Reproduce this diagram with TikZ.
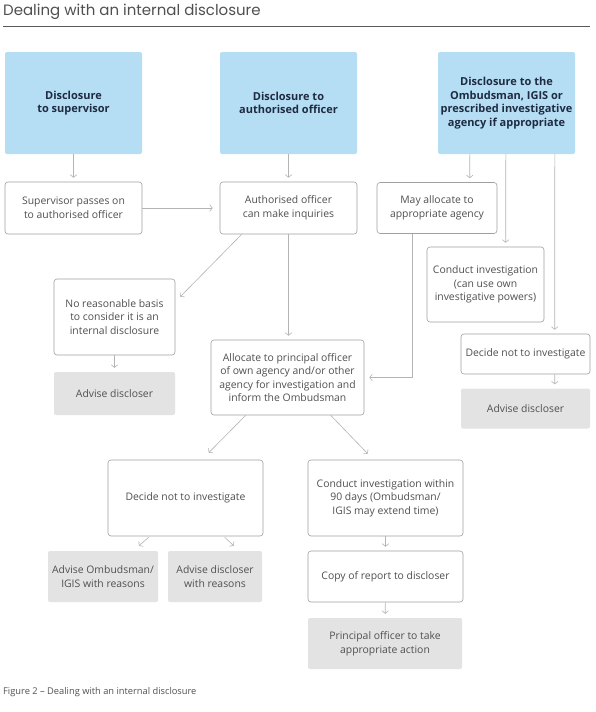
\documentclass[tikz,border=0pt]{standalone}
\usepackage{fontspec}
\setmainfont{Open Sans}
\newfontfamily\titlefont{Poppins}
\usetikzlibrary{arrows.meta,calc}
\definecolor{bluefill}{HTML}{B5DEF5}
\definecolor{bluetext}{HTML}{1E2B40}
\definecolor{greyfill}{HTML}{E3E3E3}
\definecolor{boxline}{HTML}{A0A0A0}
\definecolor{linegrey}{HTML}{B4B4B4}
\definecolor{bodytext}{HTML}{505050}
\definecolor{titlegrey}{HTML}{505050}
\definecolor{rulegrey}{HTML}{5A5A5A}
\tikzset{
  basebox/.style={inner sep=0pt, align=center, text=bodytext,
    font=\fontsize{10.4}{13.6}\selectfont},
  flowbox/.style={basebox, draw=boxline, line width=0.6pt, rounded corners=3pt, fill=white},
  bluebox/.style={basebox, fill=bluefill, rounded corners=2pt, text=bluetext,
    font=\bfseries\fontsize{11}{13.6}\selectfont, minimum width=137pt, minimum height=102pt},
  greybox/.style={basebox, fill=greyfill, rounded corners=2pt},
  conn/.style={draw=linegrey, line width=0.6pt, -{Straight Barb[length=2.6pt,width=6.5pt]}},
  connin/.style={conn, shorten >=4pt}
}
\begin{document}
\begin{tikzpicture}[x=1pt,y=-1pt]
\useasboundingbox (0,0) rectangle (595,712);
\fill[white] (0,0) rectangle (595,712);

% title
\node[anchor=west, inner sep=0pt, text=titlegrey, font=\titlefont\fontsize{15}{17}\selectfont] (title) at (3,12) {Dealing with an internal disclosure};
\draw[rulegrey, line width=0.8pt] (3,26.5) -- (590,26.5);

% top blue boxes
\node[bluebox] (b1) at (73.5,103) {Disclosure\\to supervisor};
\node[bluebox] (b2) at (288.5,103) {Disclosure to\\authorised officer};
\node[bluebox] (b3) at (506.5,103) {Disclosure to the\\Ombudsman, IGIS or\\prescribed investigative\\agency if appropriate};

% second row
\node[flowbox, minimum width=137pt, minimum height=52pt] (sup) at (73.5,208) {Supervisor passes on\\to authorised officer};
\node[flowbox, minimum width=137pt, minimum height=52pt] (auth) at (288.5,208) {Authorised officer\\can make inquiries};
\node[flowbox, minimum width=120pt, minimum height=51pt] (may) at (437,208) {May allocate to\\appropriate agency};

% right column
\node[flowbox, minimum width=117pt, minimum height=75pt] (cond1) at (485.5,284.5) {Conduct investigation\\(can use own\\investigative powers)};
\node[flowbox, minimum width=129pt, minimum height=40pt] (dec1) at (525.5,354) {Decide not to investigate};
\node[greybox, minimum width=129pt, minimum height=40pt] (adv2) at (525.5,408.5) {Advise discloser};

% left column
\node[flowbox, minimum width=121pt, minimum height=76pt] (noreason) at (114.5,317) {No reasonable basis\\to consider it is an\\internal disclosure};
\node[greybox, minimum width=121pt, minimum height=43pt] (adv1) at (114.5,393.5) {Advise discloser};

% allocate
\node[flowbox, minimum width=153pt, minimum height=75pt] (alloc) at (287.5,377.5) {Allocate to principal officer\\of own agency and/or other\\agency for investigation and\\inform the Ombudsman};

% lower part
\node[flowbox, minimum width=155pt, minimum height=76pt] (dec2) at (185.5,498) {Decide not to investigate};
\node[flowbox, minimum width=155pt, minimum height=76pt] (cond2) at (385.5,498) {Conduct investigation within\\90 days (Ombudsman/\\IGIS may extend time)};
\node[greybox, minimum width=110pt, minimum height=51pt] (advomb) at (103,576.5) {Advise Ombudsman/\\IGIS with reasons};
\node[greybox, minimum width=94pt, minimum height=51pt] (advdr) at (215,576.5) {Advise discloser\\with reasons};
\node[flowbox, minimum width=155pt, minimum height=51pt] (copy) at (385.5,576.5) {Copy of report to discloser};
\node[greybox, minimum width=154pt, minimum height=51pt] (princ) at (385,643.5) {Principal officer to take\\appropriate action};

% caption
\node[anchor=west, inner sep=0pt, text=bodytext, font=\fontsize{9.3}{11}\selectfont] (cap) at (3,692) {Figure 2 – Dealing with an internal disclosure};

% connectors
\draw[connin] (b1) -- (sup);
\draw[connin] (b2) -- (auth);
\draw[connin] ($(b3.south west)+(32,0)$) -- ($(may.north west)+(93,0)$);
\draw[connin] ($(b3.south west)+(68,0)$) -- ($(cond1.north west)+(79,0)$);
\draw[connin] ($(b3.south west)+(117,0)$) -- ($(dec1.north west)+(94,0)$);
\draw[connin] ($(dec1.south west)+(94,0)$) -- ($(adv2.north west)+(94,0)$);
\draw[connin, shorten >=7pt] (sup) -- (auth);
\draw[conn] ($(auth.south west)+(22,0)$) -- ($(noreason.north east)+(5,18)$);
\draw[connin] (auth.south) -- (auth.south |- alloc.north);
\draw[connin, shorten >=5pt] ($(may.south west)+(36,0)$) |- (alloc.east);
\draw[connin] (noreason) -- (adv1);
\draw[conn] ($(alloc.south west)+(35,0)$) -- ($(dec2.north west)+(101,-7)$);
\draw[conn] ($(alloc.south west)+(120,0)$) -- ($(cond2.north west)+(60,-6)$);
\draw[conn] ($(dec2.south west)+(41,1)$) -- ($(advomb.north west)+(91,-5)$);
\draw[conn] ($(dec2.south west)+(117,1)$) -- ($(advdr.north west)+(66,-5)$);
\draw[connin] (cond2) -- (copy);
\draw[connin] (copy) -- (princ);
\end{tikzpicture}
\end{document}
